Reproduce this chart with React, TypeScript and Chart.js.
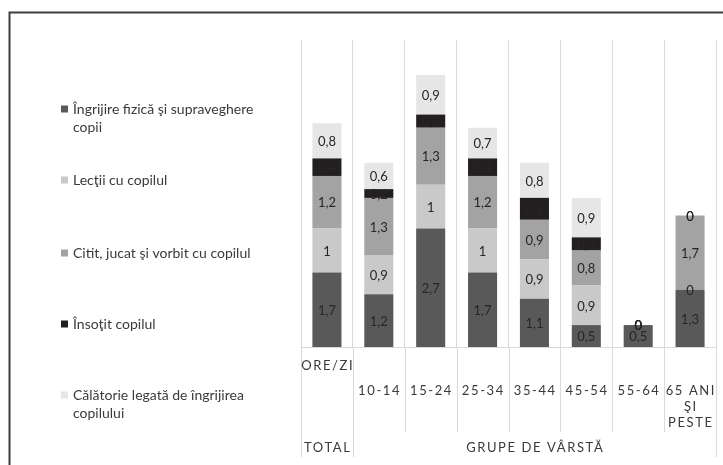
import React, { useEffect, useRef } from 'react';
import { Chart, registerables } from 'chart.js';

Chart.register(...registerables);

// ---- data ----
const categories = ['TOTAL', '10-14', '15-24', '25-34', '35-44', '45-54', '55-64', '65+'];
const level1Labels: string[][] = [
  ['ORE/ZI'],
  ['10-14'],
  ['15-24'],
  ['25-34'],
  ['35-44'],
  ['45-54'],
  ['55-64'],
  ['65 ANI', 'ŞI', 'PESTE'],
];
const groupLabels = ['TOTAL', 'GRUPE DE VÂRSTĂ'];

const ingrijire = [1.7, 1.2, 2.7, 1.7, 1.1, 0.5, 0.5, 1.3];
const lectii = [1, 0.9, 1, 1, 0.9, 0.9, 0, 0];
const citit = [1.2, 1.3, 1.3, 1.2, 0.9, 0.8, 0, 1.7];
const insotit = [0.4, 0.2, 0.3, 0.4, 0.5, 0.3, 0, 0];
const calatorie = [0.8, 0.6, 0.9, 0.7, 0.8, 0.9, 0, 0];

const seriesNames: string[][] = [
  ['Îngrijire fizică şi supraveghere', 'copii'],
  ['Lecţii cu copilul'],
  ['Citit, jucat şi vorbit cu copilul'],
  ['Însoţit copilul'],
  ['Călătorie legată de îngrijirea', 'copilului'],
];
const seriesColors = ['#595959', '#c9c9c9', '#a3a3a3', '#231f20', '#e6e6e6'];

const FONT = 'Lato, "Open Sans", sans-serif';
const TEXT = '#3a3a3a';

const fmt = (v: number) => String(v).replace('.', ',');

const frameAndLegend = {
  id: 'frameAndLegend',
  afterDraw(chart: any) {
    const ctx = chart.ctx as CanvasRenderingContext2D;
    ctx.save();
    // outer frame
    ctx.strokeStyle = '#3f3f3f';
    ctx.lineWidth = 2;
    ctx.beginPath();
    ctx.moveTo(9.5, 470);
    ctx.lineTo(9.5, 12.5);
    ctx.lineTo(730, 12.5);
    ctx.stroke();

    // legend
    const legendYs = [109, 180, 253, 324, 395];
    ctx.font = `14px ${FONT}`;
    ctx.textBaseline = 'middle';
    ctx.textAlign = 'left';
    chart.data.datasets.forEach((ds: any, i: number) => {
      const y = legendYs[i];
      ctx.fillStyle = ds.backgroundColor;
      ctx.fillRect(61, y - 3.5, 7, 7);
      ctx.fillStyle = TEXT;
      seriesNames[i].forEach((line, j) => {
        ctx.fillText(line, 73, y + j * 18);
      });
    });
    ctx.restore();
  },
};

const axisLabels = {
  id: 'axisLabels',
  afterDraw(chart: any) {
    const ctx = chart.ctx as CanvasRenderingContext2D;
    const xs = chart.scales.x;
    const area = chart.chartArea;
    const n = categories.length;
    const step = (area.right - area.left) / n;
    ctx.save();
    // boundary lines below axis
    ctx.strokeStyle = '#d9d9d9';
    ctx.lineWidth = 1;
    for (let k = 0; k <= n; k++) {
      const x = Math.round(area.left + k * step) + 0.5;
      const end = k === 0 || k === 1 || k === n ? 457 : 432;
      ctx.beginPath();
      ctx.moveTo(x, area.bottom);
      ctx.lineTo(x, end);
      ctx.stroke();
    }
    const sp = 1.6;
    (ctx as any).letterSpacing = `${sp}px`;
    ctx.font = `13px ${FONT}`;
    ctx.fillStyle = TEXT;
    ctx.textAlign = 'center';
    ctx.textBaseline = 'middle';
    level1Labels.forEach((lines, i) => {
      const cx = xs.getPixelForValue(i) + sp / 2;
      const y0 = i === 0 ? 366 : 391;
      lines.forEach((t, j) => ctx.fillText(t, cx, y0 + j * 16));
    });
    ctx.fillText(groupLabels[0], xs.getPixelForValue(0) + sp / 2, 448);
    const gx = (xs.getPixelForValue(1) + xs.getPixelForValue(n - 1)) / 2 + sp / 2;
    ctx.fillText(groupLabels[1], gx, 448);
    ctx.restore();
  },
};

const dataLabels = {
  id: 'dataLabels',
  afterDatasetsDraw(chart: any) {
    const ctx = chart.ctx as CanvasRenderingContext2D;
    ctx.save();
    ctx.font = `13px ${FONT}`;
    ctx.textAlign = 'center';
    ctx.textBaseline = 'middle';
    ctx.fillStyle = '#262626';
    chart.data.datasets.forEach((ds: any, di: number) => {
      const meta = chart.getDatasetMeta(di);
      meta.data.forEach((el: any, i: number) => {
        const v = ds.data[i];
        const y = (el.y + el.base) / 2;
        ctx.fillText(fmt(v), el.x, y + 1);
      });
    });
    ctx.restore();
  },
};

export default function App() {
  const ref = useRef<HTMLCanvasElement | null>(null);
  useEffect(() => {
    if (!ref.current) return;
    const seriesData = [ingrijire, lectii, citit, insotit, calatorie];
    const chart = new Chart(ref.current, {
      type: 'bar',
      data: {
        labels: categories,
        datasets: seriesData.map((d, i) => ({
          label: seriesNames[i].join(' '),
          data: d,
          backgroundColor: seriesColors[i],
          borderWidth: 0,
          categoryPercentage: 1,
          barPercentage: 0.56,
        })),
      },
      options: {
        responsive: false,
        animation: false,
        layout: { padding: { left: 301, top: 40, right: 7, bottom: 0 } },
        plugins: { legend: { display: false }, tooltip: { enabled: false } },
        scales: {
          x: {
            stacked: true,
            offset: true,
            grid: { display: true, offset: true, color: '#d9d9d9', drawTicks: false },
            border: { display: true, color: '#d9d9d9' },
            ticks: { display: false },
            afterFit: (s: any) => { s.height = 118; },
          },
          y: {
            stacked: true,
            display: false,
            min: 0,
            max: 7,
          },
        },
      },
      plugins: [dataLabels, axisLabels, frameAndLegend],
    });
    return () => chart.destroy();
  }, []);
  return (
    <div style={{ position: 'fixed', left: 0, top: 0, width: 723, height: 465, background: '#fff' }}>
      <canvas ref={ref} width={723} height={465} style={{ display: 'block' }} />
    </div>
  );
}
